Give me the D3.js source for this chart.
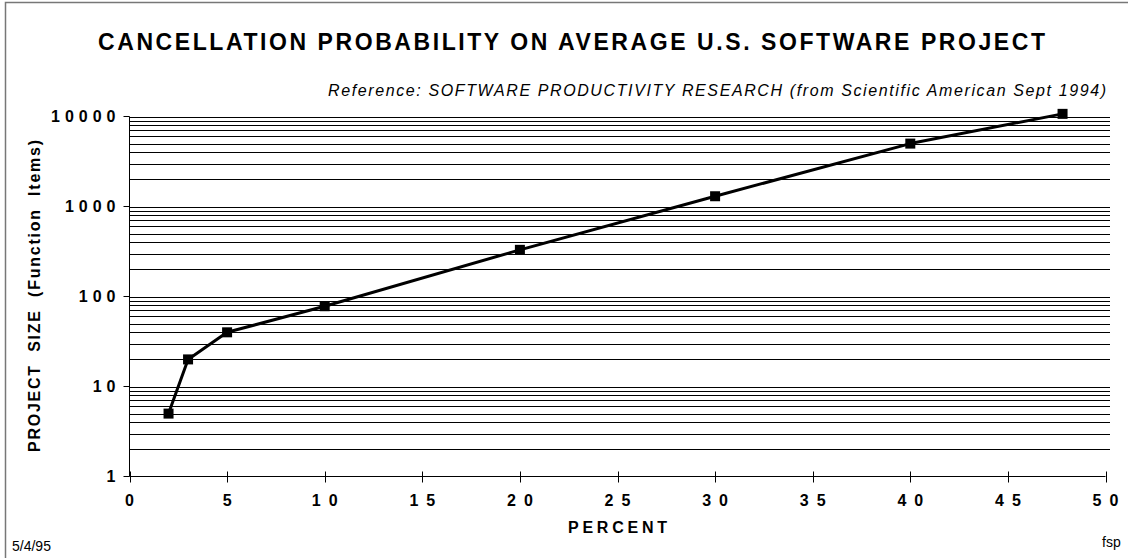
<!DOCTYPE html>
<html>
<head>
<meta charset="utf-8">
<script src="https://cdn.jsdelivr.net/npm/d3@7"></script>
<style>
  body { margin: 0; background: #fff; }
  text { font-family: "Liberation Sans", Arial, sans-serif; fill: #000; }
</style>
</head>
<body>
<div class="chart"></div>
<script>
// values
var percent = [2, 3, 5, 10, 20, 30, 40, 47.8];
var projectSize = [5, 20, 40, 78, 330, 1300, 5000, 10700];
var xTicks = [0, 5, 10, 15, 20, 25, 30, 35, 40, 45, 50];
var yTicks = [1, 10, 100, 1000, 10000];
var gridSteps = [1, 2, 3, 4, 5, 6, 7, 8, 9];

var titleText = "CANCELLATION PROBABILITY ON AVERAGE U.S. SOFTWARE PROJECT";
var refText = "Reference: SOFTWARE PRODUCTIVITY RESEARCH  (from Scientific American Sept 1994)";

var width = 1128, height = 558;
var svg = d3.select(".chart").append("svg")
    .attr("width", width)
    .attr("height", height);

// outer frame (only top and left edges show)
svg.append("path")
    .attr("d", "M5.5,560V2.5H1130")
    .attr("fill", "none")
    .attr("stroke", "#777")
    .attr("stroke-width", 1.5);

var xScale = d3.scaleLinear().domain([0, 50]).range([129.5, 1105.5]);
var yScale = d3.scaleLog().domain([1, 10000]).range([476.5, 116.5]);

// gridlines at every 1..9 of each decade
var gridVals = [];
yTicks.slice(0, -1).forEach(function(d){
    gridSteps.forEach(function(s){ if (s > 1) gridVals.push(d * s); });
});
gridVals.push(10000);
yTicks.slice(1, -1).forEach(function(d){ gridVals.push(d); });

svg.append("g").selectAll("line")
    .data(gridVals)
    .enter().append("line")
    .attr("x1", xScale(0))
    .attr("x2", 1110)
    .attr("y1", function(d){ return Math.round(yScale(d)) + 0.5; })
    .attr("y2", function(d){ return Math.round(yScale(d)) + 0.5; })
    .attr("stroke", "#000")
    .attr("stroke-width", 1);

// y axis
svg.append("line")
    .attr("x1", xScale(0)).attr("x2", xScale(0))
    .attr("y1", yScale(10000)).attr("y2", yScale(1))
    .attr("stroke", "#000");
svg.append("g").selectAll("line")
    .data(yTicks)
    .enter().append("line")
    .attr("x1", xScale(0) - 6).attr("x2", xScale(0))
    .attr("y1", function(d){ return yScale(d); })
    .attr("y2", function(d){ return yScale(d); })
    .attr("stroke", "#000");
svg.append("g").selectAll("text")
    .data(yTicks)
    .enter().append("text")
    .attr("x", 120.5)
    .attr("y", function(d){ return yScale(d) + 5.5; })
    .attr("text-anchor", "end")
    .style("font-size", "16px")
    .style("font-weight", "bold")
    .style("letter-spacing", "5px")
    .text(function(d){ return d; });

// x axis
svg.append("line")
    .attr("x1", xScale(0)).attr("x2", xScale(50))
    .attr("y1", yScale(1)).attr("y2", yScale(1))
    .attr("stroke", "#000");
svg.append("g").selectAll("line")
    .data(xTicks)
    .enter().append("line")
    .attr("x1", function(d){ return Math.round(xScale(d)) + 0.5; })
    .attr("x2", function(d){ return Math.round(xScale(d)) + 0.5; })
    .attr("y1", yScale(1) - 5).attr("y2", yScale(1) + 6)
    .attr("stroke", "#000");
svg.append("g").selectAll("text")
    .data(xTicks)
    .enter().append("text")
    .attr("x", function(d){ return xScale(d) + 4; })
    .attr("y", 506)
    .attr("text-anchor", "middle")
    .style("font-size", "16px")
    .style("font-weight", "bold")
    .style("letter-spacing", "8px")
    .text(function(d){ return d; });

// the series
var line = d3.line()
    .x(function(d, i){ return xScale(percent[i]); })
    .y(function(d){ return yScale(d); });
svg.append("path")
    .datum(projectSize)
    .attr("d", line)
    .attr("fill", "none")
    .attr("stroke", "#000")
    .attr("stroke-width", 3)
    .attr("stroke-linejoin", "round");
svg.append("g").selectAll("rect")
    .data(projectSize)
    .enter().append("rect")
    .attr("x", function(d, i){ return xScale(percent[i]) - 5; })
    .attr("y", function(d){ return yScale(d) - 5; })
    .attr("width", 10)
    .attr("height", 10)
    .attr("fill", "#000");

// titles
svg.append("text")
    .attr("x", 98).attr("y", 50)
    .attr("textLength", 947)
    .attr("lengthAdjust", "spacing")
    .style("font-size", "23px")
    .style("font-weight", "bold")
    .text(titleText);
svg.append("text")
    .attr("x", 328).attr("y", 96)
    .attr("textLength", 778)
    .attr("lengthAdjust", "spacing")
    .style("font-size", "16px")
    .style("font-style", "italic")
    .text(refText);
svg.append("text")
    .attr("x", 568).attr("y", 533)
    .attr("textLength", 99)
    .attr("lengthAdjust", "spacing")
    .style("font-size", "16px")
    .style("font-weight", "bold")
    .text("PERCENT");
svg.append("text")
    .attr("transform", "translate(40,452) rotate(-90)")
    .attr("textLength", 312)
    .attr("lengthAdjust", "spacing")
    .style("font-size", "16px")
    .style("font-weight", "bold")
    .style("white-space", "pre")
    .text("PROJECT  SIZE  (Function  Items)");

// footer notes
svg.append("text")
    .attr("x", 12).attr("y", 551)
    .style("font-size", "14px")
    .text("5/4/95");
svg.append("text")
    .attr("x", 1102).attr("y", 547)
    .style("font-size", "14px")
    .text("fsp");
</script>
</body>
</html>
